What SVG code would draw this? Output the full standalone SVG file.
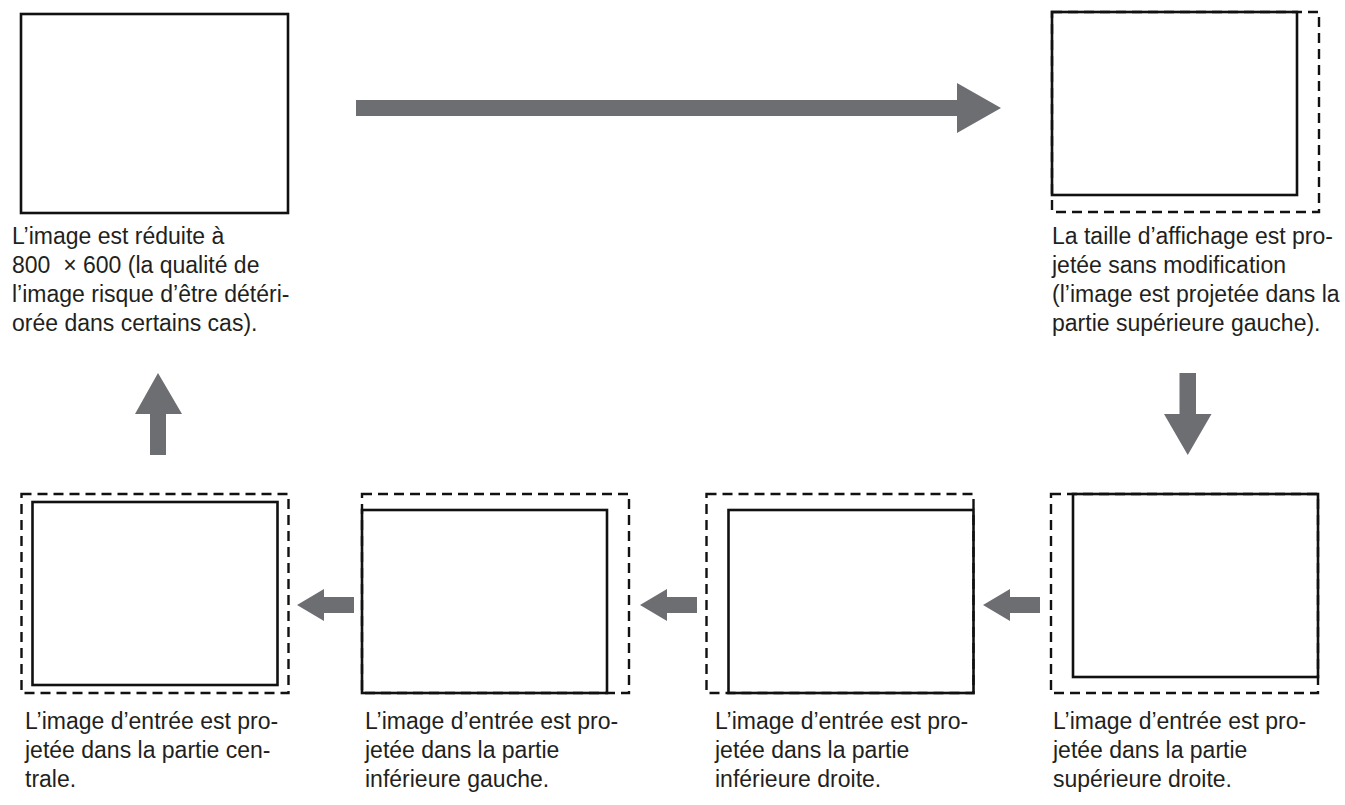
<svg xmlns="http://www.w3.org/2000/svg" width="1345" height="805" viewBox="0 0 1345 805">
<style>
.frame{fill:none;stroke:#111;stroke-width:2.6}
.dash{fill:none;stroke:#111;stroke-width:2.4;stroke-dasharray:10 6}
.arrow{fill:#6d6e71;stroke:none}
text{font-family:"Liberation Sans",Arial,sans-serif;font-size:23px;fill:#231f20}
</style>
<rect width="1345" height="805" fill="#fff"/>
<g id="node-reduced">
<rect class="frame" x="21" y="14" width="267" height="199"/>
<text x="12" y="244">L’image est réduite à</text>
<text x="12" y="273" xml:space="preserve">800  × 600 (la qualité de</text>
<text x="12" y="302">l’image risque d’être détéri-</text>
<text x="12" y="331">orée dans certains cas).</text>
</g>
<g id="node-topleft">
<rect class="dash" x="1052" y="12" width="267" height="200"/>
<rect class="frame" x="1052" y="12" width="245" height="183"/>
<text x="1052" y="244">La taille d’affichage est pro-</text>
<text x="1052" y="273">jetée sans modification</text>
<text x="1052" y="302">(l’image est projetée dans la</text>
<text x="1052" y="331">partie supérieure gauche).</text>
</g>
<g id="node-topright">
<rect class="dash" x="1051" y="494" width="267" height="199"/>
<rect class="frame" x="1073" y="494" width="245" height="183"/>
<text x="1053" y="729">L’image d’entrée est pro-</text>
<text x="1053" y="758">jetée dans la partie</text>
<text x="1053" y="787">supérieure droite.</text>
</g>
<g id="node-bottomright">
<rect class="dash" x="706.5" y="494" width="267" height="199"/>
<rect class="frame" x="728.5" y="510" width="245" height="183"/>
<text x="715" y="729">L’image d’entrée est pro-</text>
<text x="715" y="758">jetée dans la partie</text>
<text x="715" y="787">inférieure droite.</text>
</g>
<g id="node-bottomleft">
<rect class="dash" x="362" y="494" width="267" height="199"/>
<rect class="frame" x="362" y="510" width="245" height="183"/>
<text x="365" y="729">L’image d’entrée est pro-</text>
<text x="365" y="758">jetée dans la partie</text>
<text x="365" y="787">inférieure gauche.</text>
</g>
<g id="node-center">
<rect class="dash" x="21.5" y="494" width="267" height="199"/>
<rect class="frame" x="32.5" y="502" width="245" height="183"/>
<text x="25" y="729">L’image d’entrée est pro-</text>
<text x="25" y="758">jetée dans la partie cen-</text>
<text x="25" y="787">trale.</text>
</g>
<g id="connectors">
<polygon class="arrow" points="356,100 957,100 957,83 1001,108 957,133 957,116 356,116"/>
<polygon class="arrow" points="1179.5,373 1196,373 1196,414 1211.5,414 1187.75,455 1164,414 1179.5,414"/>
<polygon class="arrow" points="354,597 324,597 324,589 297,605 324,621 324,613 354,613"/>
<polygon class="arrow" points="697,597 667,597 667,589 640,605 667,621 667,613 697,613"/>
<polygon class="arrow" points="1040,597 1010,597 1010,589 983,605 1010,621 1010,613 1040,613"/>
<polygon class="arrow" points="150,455 166,455 166,414 182,414 158,373 135,414 150,414"/>
</g>
</svg>
